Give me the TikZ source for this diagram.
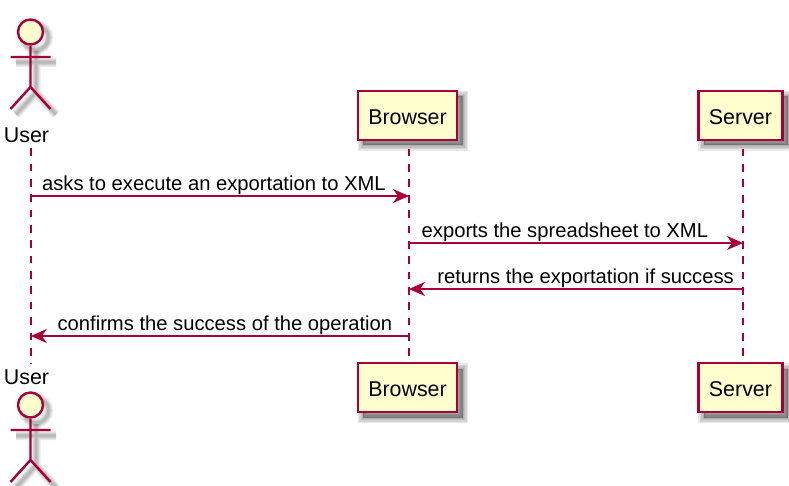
\documentclass[tikz,border=0pt]{standalone}
\usepackage{fontspec}
\setmainfont{Liberation Sans}
\usetikzlibrary{arrows.meta, positioning}

\definecolor{umlred}{HTML}{A80036}
\definecolor{umlfill}{HTML}{FEFECE}

\tikzset{
	shadowlayer/.style={preaction={draw=black, fill=black, opacity=.09, line width=#1, transform canvas={shift={(5.5pt,-5.5pt)}}}},
	softshadow/.style={shadowlayer=11, shadowlayer=8, shadowlayer=5, shadowlayer=2},
	partbox/.style={draw=umlred, fill=umlfill, line width=2.2, minimum height=49, inner xsep=10.5, text height=18.4, text depth=0, font=\fontsize{21.4}{25}\selectfont, softshadow},
	actorname/.style={font=\fontsize{21.4}{25}\selectfont, inner sep=0},
	lifeline/.style={umlred, line width=1.4, dash pattern=on 7.68 off 7.68, dash phase=7.68},
	msg/.style={umlred, line width=1.4, -{Stealth[length=16, width=14, inset=5]}},
	msgtext/.style={text=black, font=\fontsize{20.2}{24}\selectfont, inner sep=0, midway},
	pics/stickman/.style={
		code={
			% shadow first, widest on the bottom
			\foreach \w in {9, 6.5, 4.5, 2.5} {
				\draw[black, opacity=.08, line width=\w] (5.5,5.5) circle (12.5);
				\draw[black, opacity=.08, line width=\w] (5.5,19) -- (5.5,60.5) (-14.5,30.5) -- (25.5,30.5) (-14.5,82.5) -- (5.5,60.5) -- (25.5,82.5);
			}
			\draw[umlred, line width=2.4] (0,14) -- (0,55) (-20,25) -- (20,25) (-20,77) -- (0,55) -- (20,77);
			\draw[umlred, fill=umlfill, line width=2.4] (0,0) circle (12.5);
		}
	}
}

\begin{document}
\begin{tikzpicture}[x=1pt, y=-1pt]

	\useasboundingbox (0,0) rectangle (789,486);

	\coordinate (usertop) at (30.8,140.5);
	\coordinate (userbot) at (30.8,364);

	\draw[lifeline] (usertop) -- (userbot);

	\node[partbox] (browser) at (407.5,115.5) {Browser};
	\node[partbox, right=239 of browser] (server) {Server};
	\node[partbox] (browserend) at (407.5,387.5) {Browser};
	\node[partbox, right=239 of browserend] (serverend) {Server};

	\draw[lifeline] (browser.south -| 409,0) -- (browserend.north -| 409,0);
	\draw[lifeline] (server.south -| 743,0) -- (serverend.north -| 743,0);

	\pic at (30.5,32) {stickman};
	\pic at (30.5,405) {stickman};
	\node[actorname] (user) at (26.5,135) {User};
	\node[actorname] (userend) at (26.5,377) {User};

	\coordinate (u1) at (30.8,196);
	\coordinate (b1) at (409,196);
	\coordinate (b2) at (409,243);
	\coordinate (s2) at (743,243);
	\coordinate (s3) at (743,289);
	\coordinate (b3) at (409,289);
	\coordinate (b4) at (409,336);
	\coordinate (u4) at (30.8,336);

	\draw[msg] (u1) -- node[msgtext, anchor=base west, xshift=-178.5, yshift=5.5] {asks to execute an exportation to XML} (b1);
	\draw[msg] (b2) -- node[msgtext, anchor=base west, xshift=-155, yshift=5.5] {exports the spreadsheet to XML} (s2);
	\draw[msg] (s3) -- node[msgtext, anchor=base east, xshift=158.5, yshift=5.5] {returns the exportation if success} (b3);
	\draw[msg] (b4) -- node[msgtext, anchor=base east, xshift=173, yshift=5.5] {confirms the success of the operation} (u4);

\end{tikzpicture}
\end{document}
